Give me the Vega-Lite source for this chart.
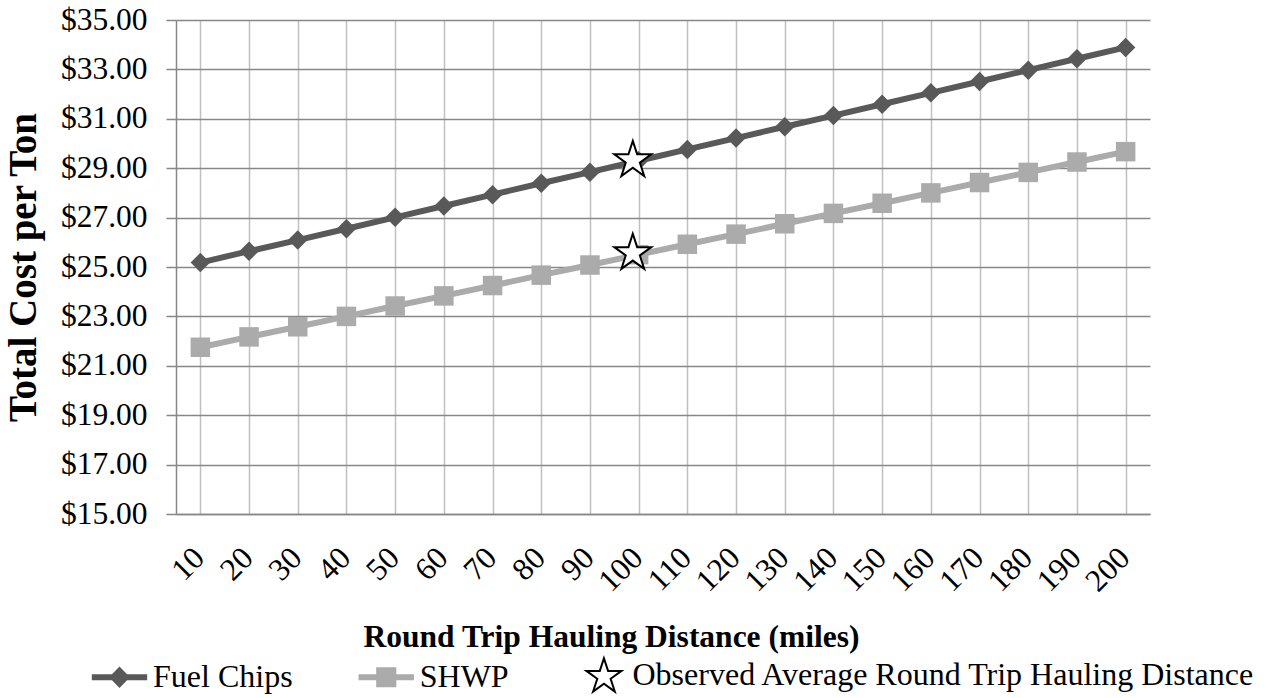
{
  "$schema": "https://vega.github.io/schema/vega-lite/v6.json",
  "autosize": {"type": "none"},
  "padding": {"left": 176, "top": 20, "right": 119, "bottom": 184},
  "width": 974,
  "height": 494,
  "background": "white",
  "config": {"view": {"stroke": null}, "font": "Liberation Serif"},
  "data": {"values": [
    {"miles": 10, "series": "Fuel Chips", "cost": 25.18},
    {"miles": 20, "series": "Fuel Chips", "cost": 25.64},
    {"miles": 30, "series": "Fuel Chips", "cost": 26.09},
    {"miles": 40, "series": "Fuel Chips", "cost": 26.55},
    {"miles": 50, "series": "Fuel Chips", "cost": 27.01},
    {"miles": 60, "series": "Fuel Chips", "cost": 27.47},
    {"miles": 70, "series": "Fuel Chips", "cost": 27.93},
    {"miles": 80, "series": "Fuel Chips", "cost": 28.39},
    {"miles": 90, "series": "Fuel Chips", "cost": 28.84},
    {"miles": 100, "series": "Fuel Chips", "cost": 29.30},
    {"miles": 110, "series": "Fuel Chips", "cost": 29.76},
    {"miles": 120, "series": "Fuel Chips", "cost": 30.22},
    {"miles": 130, "series": "Fuel Chips", "cost": 30.68},
    {"miles": 140, "series": "Fuel Chips", "cost": 31.13},
    {"miles": 150, "series": "Fuel Chips", "cost": 31.59},
    {"miles": 160, "series": "Fuel Chips", "cost": 32.05},
    {"miles": 170, "series": "Fuel Chips", "cost": 32.51},
    {"miles": 180, "series": "Fuel Chips", "cost": 32.97},
    {"miles": 190, "series": "Fuel Chips", "cost": 33.43},
    {"miles": 200, "series": "Fuel Chips", "cost": 33.89},
    {"miles": 10, "series": "SHWP", "cost": 21.75},
    {"miles": 20, "series": "SHWP", "cost": 22.17},
    {"miles": 30, "series": "SHWP", "cost": 22.58},
    {"miles": 40, "series": "SHWP", "cost": 23.00},
    {"miles": 50, "series": "SHWP", "cost": 23.42},
    {"miles": 60, "series": "SHWP", "cost": 23.83},
    {"miles": 70, "series": "SHWP", "cost": 24.25},
    {"miles": 80, "series": "SHWP", "cost": 24.67},
    {"miles": 90, "series": "SHWP", "cost": 25.08},
    {"miles": 100, "series": "SHWP", "cost": 25.50},
    {"miles": 110, "series": "SHWP", "cost": 25.92},
    {"miles": 120, "series": "SHWP", "cost": 26.33},
    {"miles": 130, "series": "SHWP", "cost": 26.75},
    {"miles": 140, "series": "SHWP", "cost": 27.17},
    {"miles": 150, "series": "SHWP", "cost": 27.58},
    {"miles": 160, "series": "SHWP", "cost": 28.00},
    {"miles": 170, "series": "SHWP", "cost": 28.42},
    {"miles": 180, "series": "SHWP", "cost": 28.83},
    {"miles": 190, "series": "SHWP", "cost": 29.25},
    {"miles": 200, "series": "SHWP", "cost": 29.67},
    {"miles": 98.8, "series": "Observed Average Round Trip Hauling Distance", "cost": 29.32},
    {"miles": 98.8, "series": "Observed Average Round Trip Hauling Distance", "cost": 25.56}
  ]},
  "encoding": {
    "x": {
      "field": "miles", "type": "quantitative",
      "scale": {"domain": [5, 205], "nice": false, "zero": false},
      "axis": {
        "values": [10, 20, 30, 40, 50, 60, 70, 80, 90, 100, 110, 120, 130, 140, 150, 160, 170, 180, 190, 200],
        "labelAngle": -45, "labelAlign": "right", "labelBaseline": "middle",
        "labelFont": "Liberation Serif", "labelFontSize": 31.5, "labelColor": "black",
        "labelPadding": 39, "labelOffset": -1, "labelFlush": false, "labelOverlap": false,
        "ticks": false,
        "grid": true, "gridColor": "#c0c0c0", "gridWidth": 1.5,
        "domainColor": "#878787", "domainWidth": 1.5,
        "title": "Round Trip Hauling Distance (miles)",
        "titleFont": "Liberation Serif", "titleFontSize": 31.5, "titleFontWeight": "bold", "titleColor": "black",
        "titlePadding": 24, "titleX": 435, "titleAlign": "center"
      }
    },
    "y": {
      "field": "cost", "type": "quantitative",
      "scale": {"domain": [15, 35], "nice": false, "zero": false},
      "axis": {
        "values": [15, 17, 19, 21, 23, 25, 27, 29, 31, 33, 35],
        "format": "$.2f",
        "labelFont": "Liberation Serif", "labelFontSize": 31.5, "labelColor": "black",
        "labelPadding": 19, "labelFlush": false, "labelOverlap": false,
        "tickSize": 10, "tickColor": "#878787", "tickWidth": 1.5,
        "grid": true, "gridColor": "#878787", "gridWidth": 1.5,
        "domainColor": "#878787", "domainWidth": 1.5,
        "title": "Total Cost per Ton",
        "titleFont": "Liberation Serif", "titleFontSize": 39, "titleFontWeight": "bold", "titleColor": "black",
        "titlePadding": 17
      }
    }
  },
  "layer": [
    {
      "transform": [{"filter": "datum.series === 'Fuel Chips'"}],
      "mark": {"type": "line", "strokeWidth": 6, "color": "#595959"}
    },
    {
      "transform": [{"filter": "datum.series === 'SHWP'"}],
      "mark": {"type": "line", "strokeWidth": 6, "color": "#ababab"}
    },
    {
      "transform": [{"filter": "datum.series === 'Fuel Chips'"}],
      "mark": {"type": "point", "shape": "diamond", "filled": true, "size": 380, "opacity": 1, "color": "#595959"}
    },
    {
      "transform": [{"filter": "datum.series === 'SHWP'"}],
      "mark": {"type": "point", "shape": "square", "filled": true, "size": 380, "opacity": 1, "color": "#ababab"}
    },
    {
      "transform": [{"filter": "datum.series === 'Observed Average Round Trip Hauling Distance'"}],
      "mark": {"type": "point", "shape": "M0,-1L0.2245,-0.309L0.951,-0.309L0.363,0.118L0.588,0.809L0,0.382L-0.588,0.809L-0.363,0.118L-0.951,-0.309L-0.2245,-0.309Z", "filled": true, "fill": "white", "stroke": "black", "strokeWidth": 2, "size": 1510, "opacity": 1}
    },
    {
      "transform": [{"filter": "false"}],
      "mark": {"type": "point", "filled": true, "strokeWidth": 2},
      "encoding": {
        "shape": {
          "field": "series", "type": "nominal",
          "scale": {"domain": ["Fuel Chips", "SHWP", "Observed Average Round Trip Hauling Distance"],
                    "range": ["M-0.97,-0.075H0.97V0.075H-0.97Z M0,-0.34L0.33,0L0,0.34L-0.33,0Z", "M-0.97,-0.075H0.97V0.075H-0.97Z M-0.33,-0.33H0.33V0.33H-0.33Z", "M0.18,-0.61L0.33,-0.147L0.817,-0.147L0.423,0.139L0.574,0.602L0.18,0.316L-0.214,0.602L-0.063,0.139L-0.457,-0.147L0.03,-0.147Z"]},
          "legend": {
            "orient": "none", "legendX": -85, "legendY": 626, "direction": "horizontal",
            "title": null, "padding": 0,
            "symbolSize": 3025, "symbolStrokeWidth": 2, "symbolOpacity": 1, "columnPadding": 61.75,
            "labelFont": "Liberation Serif", "labelFontSize": 32, "labelColor": "black", "labelLimit": 1000, "labelOffset": 5
          }
        },
        "fill": {
          "field": "series", "type": "nominal",
          "scale": {"domain": ["Fuel Chips", "SHWP", "Observed Average Round Trip Hauling Distance"], "range": ["#595959", "#ababab", "#ffffff"]}
        },
        "stroke": {
          "field": "series", "type": "nominal",
          "scale": {"domain": ["Fuel Chips", "SHWP", "Observed Average Round Trip Hauling Distance"], "range": ["#595959", "#ababab", "#000000"]}
        }
      }
    }
  ]
}
